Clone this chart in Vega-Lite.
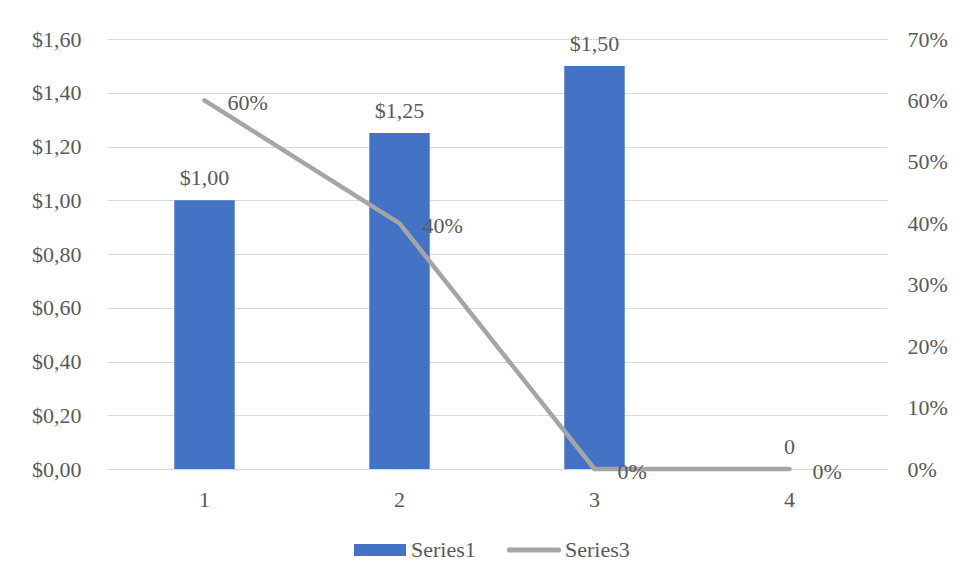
{
  "$schema": "https://vega.github.io/schema/vega-lite/v6.json",
  "width": 780,
  "height": 430,
  "autosize": {"type": "none"},
  "padding": {"left": 107, "top": 39, "right": 73, "bottom": 112},
  "background": "white",
  "data": {
    "values": [
      {"category": "1", "price": 1.00, "share": 0.60},
      {"category": "2", "price": 1.25, "share": 0.40},
      {"category": "3", "price": 1.50, "share": 0.00},
      {"category": "4", "price": 0.00, "share": 0.00}
    ]
  },
  "encoding": {
    "x": {
      "field": "category",
      "type": "ordinal",
      "scale": {"paddingInner": 0.69, "paddingOuter": 0.345},
      "axis": {
        "title": null,
        "labelAngle": 0,
        "domain": true,
        "domainColor": "#D9D9D9",
        "domainWidth": 1,
        "labelPadding": 20
      }
    }
  },
  "layer": [
    {
      "layer": [
        {
          "mark": {"type": "bar"},
          "encoding": {
            "y": {
              "field": "price",
              "type": "quantitative",
              "scale": {"domain": [0, 1.6], "nice": false},
              "axis": {
                "title": null,
                "values": [0, 0.2, 0.4, 0.6, 0.8, 1.0, 1.2, 1.4, 1.6],
                "format": "$.2f",
                "grid": true,
                "gridColor": "#D9D9D9",
                "gridWidth": 1,
                "labelPadding": 26
              }
            },
            "color": {
              "datum": "Series1",
              "type": "nominal",
              "scale": {"domain": ["Series1", "Series3"], "range": ["#4472C4", "#A5A5A5"]},
              "legend": {
                "orient": "none",
                "legendX": 262,
                "legendY": 500,
                "direction": "horizontal",
                "title": null,
                "padding": 0,
                "symbolSize": 2704,
                "labelOffset": 20,
                "columnPadding": 23,
                "labelFont": "Liberation Serif",
                "labelFontSize": 22,
                "labelColor": "#595959",
                "encode": {
                  "symbols": {
                    "update": {
                      "shape": {"signal": "datum.value === 'Series1' ? 'M-1,-0.23H1V0.23H-1Z' : 'M-0.95,0H0.95'"},
                      "fill": {"signal": "datum.value === 'Series1' ? '#4472C4' : 'transparent'"},
                      "stroke": {"signal": "datum.value === 'Series1' ? 'transparent' : '#A5A5A5'"},
                      "strokeWidth": {"signal": "datum.value === 'Series1' ? 0 : 5"},
                      "strokeCap": {"value": "round"},
                      "opacity": {"value": 1}
                    }
                  }
                }
              }
            }
          }
        },
        {
          "transform": [{"filter": "datum.price > 0"}],
          "mark": {"type": "text", "baseline": "alphabetic", "dy": -15},
          "encoding": {
            "y": {"field": "price", "type": "quantitative"},
            "text": {"field": "price", "type": "quantitative", "format": "$.2f"}
          }
        },
        {
          "transform": [{"filter": "datum.price === 0"}],
          "mark": {"type": "text", "baseline": "alphabetic", "dy": -15},
          "encoding": {
            "y": {"field": "price", "type": "quantitative"},
            "text": {"field": "price", "type": "quantitative", "format": "d"}
          }
        }
      ]
    },
    {
      "layer": [
        {
          "mark": {"type": "line", "strokeWidth": 4.5, "strokeCap": "round", "strokeJoin": "round"},
          "encoding": {
            "y": {
              "field": "share",
              "type": "quantitative",
              "scale": {"domain": [0, 0.7], "nice": false},
              "axis": {
                "orient": "right",
                "title": null,
                "values": [0, 0.1, 0.2, 0.3, 0.4, 0.5, 0.6, 0.7],
                "format": ".0%",
                "grid": false,
                "labelPadding": 20
              }
            },
            "color": {"datum": "Series3", "type": "nominal"}
          }
        },
        {
          "mark": {"type": "text", "align": "left", "baseline": "alphabetic", "dx": 23, "dy": 10},
          "encoding": {
            "y": {"field": "share", "type": "quantitative"},
            "text": {"field": "share", "type": "quantitative", "format": ".0%"}
          }
        }
      ]
    }
  ],
  "resolve": {"scale": {"y": "independent"}},
  "config": {
    "locale": {
      "number": {"decimal": ",", "thousands": ".", "grouping": [3], "currency": ["$", ""]}
    },
    "view": {"stroke": null},
    "axis": {
      "labelFont": "Liberation Serif",
      "labelFontSize": 22,
      "labelColor": "#595959",
      "ticks": false,
      "tickSize": 0,
      "domain": false
    },
    "text": {"font": "Liberation Serif", "fontSize": 22, "color": "#595959"}
  }
}
